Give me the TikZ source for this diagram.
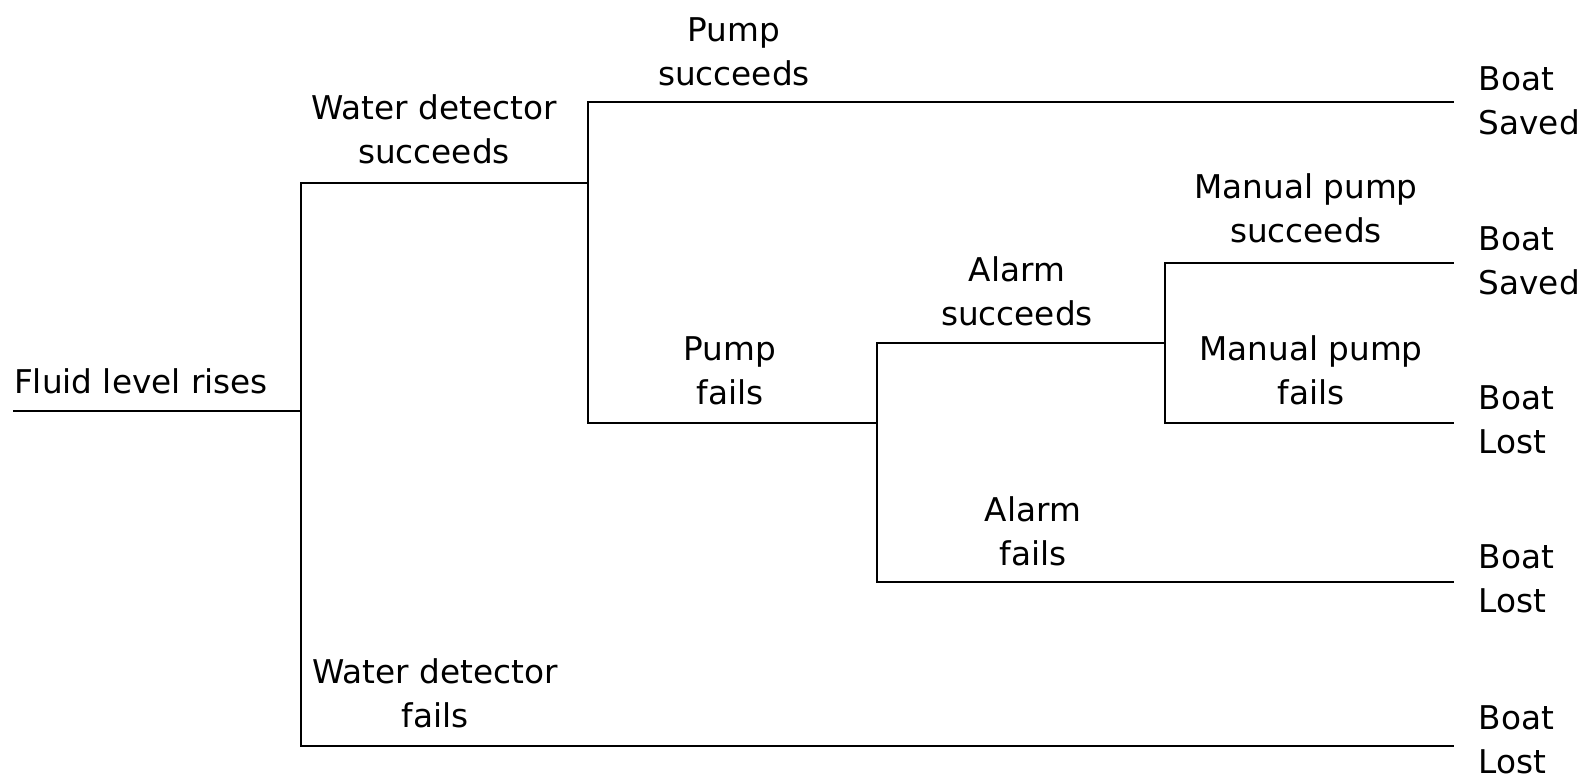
\documentclass[tikz,border=0pt]{standalone}
\usepackage{fontspec}
\setmainfont{DejaVu Sans}
\begin{document}
\begin{tikzpicture}[x=0.01cm,y=-0.01cm,
  lbl/.style={align=center,inner sep=0pt,font=\fontsize{9.3}{12.5}\selectfont},
  outc/.style={align=left,anchor=west,inner sep=0pt,font=\fontsize{9.3}{12.5}\selectfont},
  br/.style={line width=0.8pt,line cap=rect}]
\useasboundingbox (0,0) rectangle (1579,777);
% junction coordinates
\coordinate (start) at (14,411);
\coordinate (j1) at (301,411);
\coordinate (j1t) at (301,183);
\coordinate (j1b) at (301,746);
\coordinate (j2) at (588,183);
\coordinate (j2t) at (588,102);
\coordinate (j2b) at (588,423);
\coordinate (j3) at (877,423);
\coordinate (j3t) at (877,343);
\coordinate (j3b) at (877,582);
\coordinate (j4) at (1165,343);
\coordinate (j4t) at (1165,263);
\coordinate (j4b) at (1165,423);
\coordinate (e1) at (1453,102);
\coordinate (e2) at (1453,263);
\coordinate (e3) at (1453,423);
\coordinate (e4) at (1453,582);
\coordinate (e5) at (1453,746);
% branches
\draw[br] (start) -- (j1);
\draw[br] (j1t) -- (j1b);
\draw[br] (j1t) -- (j2);
\draw[br] (j2t) -- (j2b);
\draw[br] (j2t) -- (e1);
\draw[br] (j2b) -- (j3);
\draw[br] (j3t) -- (j3b);
\draw[br] (j3t) -- (j4);
\draw[br] (j4t) -- (j4b);
\draw[br] (j4t) -- (e2);
\draw[br] (j4b) -- (e3);
\draw[br] (j3b) -- (e4);
\draw[br] (j1b) -- (e5);
% labels
\node[lbl] (t0) at (141,381) {Fluid level rises};
\node[lbl] (t1) at (434,129) {Water detector\\succeeds};
\node[lbl] (t2) at (734,52) {Pump\\succeeds};
\node[lbl] (t3) at (730,371) {Pump\\fails};
\node[lbl] (t4) at (1017,291) {Alarm\\succeeds};
\node[lbl] (t5) at (1306,208) {Manual pump\\succeeds};
\node[lbl] (t6) at (1311,370) {Manual pump\\fails};
\node[lbl] (t7) at (1033,531) {Alarm\\fails};
\node[lbl] (t8) at (435,693) {Water detector\\fails};
% outcomes
\node[outc] (o1) at (1478,101) {Boat\\Saved};
\node[outc] (o2) at (1478,261) {Boat\\Saved};
\node[outc] (o3) at (1478,420) {Boat\\Lost};
\node[outc] (o4) at (1478,579) {Boat\\Lost};
\node[outc] (o5) at (1478,740) {Boat\\Lost};
\end{tikzpicture}
\end{document}
